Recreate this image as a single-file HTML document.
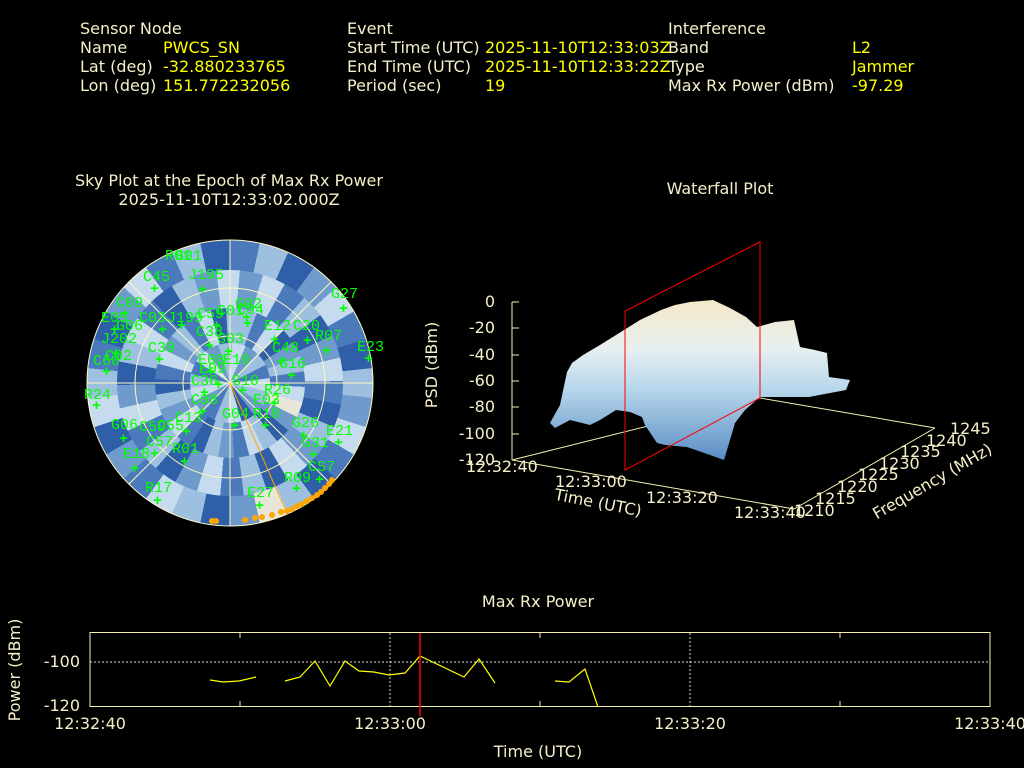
<!DOCTYPE html>
<html><head><meta charset="utf-8"><style>
html,body{margin:0;padding:0;background:#000;width:1024px;height:768px;overflow:hidden;position:relative}
svg{display:block;position:absolute;left:0;top:0}
.ring{position:absolute;border-radius:50%}
.t{font-family:"DejaVu Sans","Liberation Sans",sans-serif;font-size:16px;fill:#f5f0c8}
.y{fill:#ffff00}
.g{font-family:"Liberation Mono",monospace;font-size:15px;fill:#00ff00}
</style></head><body>
<div class="ring" style="left:87px;top:240px;width:286px;height:286px;background:conic-gradient(#4a7abb 0 12deg,#9dbfe0 0 24deg,#2f5fa8 0 36deg,#6f9acc 0 48deg,#c6dcee 0 60deg,#4a7abb 0 72deg,#2f5fa8 0 84deg,#9dbfe0 0 96deg,#6f9acc 0 108deg,#c6dcee 0 120deg,#4a7abb 0 132deg,#2f5fa8 0 144deg,#9dbfe0 0 156deg,#e8e6d8 0 168deg,#6f9acc 0 180deg,#2f5fa8 0 192deg,#9dbfe0 0 204deg,#c6dcee 0 216deg,#4a7abb 0 228deg,#6f9acc 0 240deg,#2f5fa8 0 252deg,#c6dcee 0 264deg,#9dbfe0 0 276deg,#4a7abb 0 288deg,#2f5fa8 0 300deg,#6f9acc 0 312deg,#c6dcee 0 324deg,#4a7abb 0 336deg,#9dbfe0 0 348deg,#2f5fa8 0 360deg)"></div>
<div class="ring" style="left:117px;top:270px;width:226px;height:226px;background:conic-gradient(from 5deg,#6f9acc 0 12deg,#c6dcee 0 24deg,#4a7abb 0 36deg,#9dbfe0 0 48deg,#2f5fa8 0 60deg,#6f9acc 0 72deg,#c6dcee 0 84deg,#4a7abb 0 96deg,#2f5fa8 0 108deg,#9dbfe0 0 120deg,#6f9acc 0 132deg,#c6dcee 0 144deg,#2f5fa8 0 156deg,#9dbfe0 0 168deg,#4a7abb 0 180deg,#c6dcee 0 192deg,#6f9acc 0 204deg,#2f5fa8 0 216deg,#9dbfe0 0 228deg,#4a7abb 0 240deg,#c6dcee 0 252deg,#6f9acc 0 264deg,#2f5fa8 0 276deg,#9dbfe0 0 288deg,#c6dcee 0 300deg,#4a7abb 0 312deg,#2f5fa8 0 324deg,#9dbfe0 0 336deg,#6f9acc 0 348deg,#c6dcee 0 360deg)"></div>
<div class="ring" style="left:155px;top:308px;width:150px;height:150px;background:conic-gradient(from 9deg,#9dbfe0 0 12deg,#4a7abb 0 24deg,#c6dcee 0 36deg,#2f5fa8 0 48deg,#6f9acc 0 60deg,#9dbfe0 0 72deg,#4a7abb 0 84deg,#c6dcee 0 96deg,#e8e6d8 0 108deg,#6f9acc 0 120deg,#2f5fa8 0 132deg,#9dbfe0 0 144deg,#c6dcee 0 156deg,#4a7abb 0 168deg,#6f9acc 0 180deg,#9dbfe0 0 192deg,#2f5fa8 0 204deg,#4a7abb 0 216deg,#c6dcee 0 228deg,#6f9acc 0 240deg,#9dbfe0 0 252deg,#2f5fa8 0 264deg,#4a7abb 0 276deg,#c6dcee 0 288deg,#6f9acc 0 300deg,#9dbfe0 0 312deg,#4a7abb 0 324deg,#c6dcee 0 336deg,#2f5fa8 0 348deg,#9dbfe0 0 360deg)"></div>
<div class="ring" style="left:190px;top:343px;width:80px;height:80px;background:conic-gradient(from 3deg,#c6dcee 0 20deg,#6f9acc 0 40deg,#9dbfe0 0 60deg,#4a7abb 0 80deg,#c6dcee 0 100deg,#9dbfe0 0 120deg,#6f9acc 0 140deg,#2f5fa8 0 160deg,#c6dcee 0 180deg,#9dbfe0 0 200deg,#4a7abb 0 220deg,#6f9acc 0 240deg,#c6dcee 0 260deg,#9dbfe0 0 280deg,#4a7abb 0 300deg,#c6dcee 0 320deg,#6f9acc 0 340deg,#9dbfe0 0 360deg)"></div>
<svg width="1024" height="768" viewBox="0 0 1024 768" xmlns="http://www.w3.org/2000/svg">
<g class="t">
<text x="80" y="34">Sensor Node</text>
<text x="80" y="53">Name</text><text x="163" y="53" class="t y">PWCS_SN</text>
<text x="80" y="72">Lat (deg)</text><text x="163" y="72" class="t y">-32.880233765</text>
<text x="80" y="91">Lon (deg)</text><text x="163" y="91" class="t y">151.772232056</text>
<text x="347" y="34">Event</text>
<text x="347" y="53">Start Time (UTC)</text><text x="485" y="53" class="t y">2025-11-10T12:33:03Z</text>
<text x="347" y="72">End Time (UTC)</text><text x="485" y="72" class="t y">2025-11-10T12:33:22Z</text>
<text x="347" y="91">Period (sec)</text><text x="485" y="91" class="t y">19</text>
<text x="668" y="34">Interference</text>
<text x="668" y="53">Band</text><text x="852" y="53" class="t y">L2</text>
<text x="668" y="72">Type</text><text x="852" y="72" class="t y">Jammer</text>
<text x="668" y="91">Max Rx Power (dBm)</text><text x="852" y="91" class="t y">-97.29</text>
<text x="229" y="186" text-anchor="middle">Sky Plot at the Epoch of Max Rx Power</text>
<text x="229" y="205" text-anchor="middle">2025-11-10T12:33:02.000Z</text>
<text x="720" y="194" text-anchor="middle">Waterfall Plot</text>
<text x="538" y="607" text-anchor="middle">Max Rx Power</text>
</g>
<g fill="none" stroke="#fff8c0" stroke-width="1">
<circle cx="230" cy="383" r="143"/><circle cx="230" cy="383" r="95"/><circle cx="230" cy="383" r="47"/>
<line x1="87" y1="383" x2="373" y2="383"/><line x1="230" y1="240" x2="230" y2="526"/>
<line x1="129" y1="282" x2="331" y2="484"/><line x1="331" y1="282" x2="129" y2="484"/>
</g>
<line x1="230" y1="383" x2="285" y2="509" stroke="#ffa500" stroke-width="1"/>
<g fill="#ffa500">
<circle cx="212" cy="521" r="3"/><circle cx="216" cy="521" r="3"/><circle cx="245" cy="520" r="3"/><circle cx="255" cy="518" r="3"/><circle cx="262" cy="517" r="3"/><circle cx="272" cy="515" r="3"/><circle cx="281" cy="512" r="3"/><circle cx="287" cy="511" r="3"/><circle cx="292" cy="509" r="3"/><circle cx="297" cy="506" r="3"/><circle cx="302" cy="504" r="3"/><circle cx="307" cy="501" r="3"/><circle cx="312" cy="498" r="3"/><circle cx="317" cy="495" r="3"/><circle cx="321" cy="492" r="3"/><circle cx="325" cy="488" r="3"/><circle cx="329" cy="484" r="3"/><circle cx="332" cy="480" r="3"/>
</g>
<g class="g">
<text x="165" y="260">R01</text><text x="175" y="260">G01</text><text x="188" y="279">J195</text><text x="143" y="281">C45</text>
<text x="116" y="307">C09</text><text x="101" y="322">E05</text><text x="139" y="322">C03</text><text x="167" y="322">J199</text>
<text x="197" y="318">C59</text><text x="217" y="315">C01</text><text x="235" y="308">G02</text><text x="237" y="314">C04</text>
<text x="264" y="330">E12</text><text x="293" y="330">C20</text><text x="315" y="340">R07</text><text x="331" y="298">G27</text>
<text x="357" y="351">E23</text><text x="101" y="343">J202</text><text x="148" y="352">C39</text><text x="196" y="336">C38</text>
<text x="217" y="343">G03</text><text x="272" y="352">C48</text><text x="279" y="368">G16</text><text x="93" y="365">C60</text>
<text x="198" y="364">E08</text><text x="223" y="364">E10</text><text x="199" y="373">E09</text><text x="191" y="385">C36</text>
<text x="232" y="385">G10</text><text x="264" y="394">R26</text><text x="191" y="404">C08</text><text x="253" y="404">E03</text>
<text x="222" y="418">G04</text><text x="253" y="418">R10</text><text x="175" y="422">C13</text><text x="111" y="429">G06</text>
<text x="139" y="431">C59</text><text x="157" y="430">C55</text><text x="292" y="427">G26</text><text x="326" y="435">E21</text>
<text x="302" y="447">G31</text><text x="146" y="446">C57</text><text x="172" y="453">R01</text><text x="123" y="458">E18</text>
<text x="308" y="471">CS7</text><text x="284" y="482">R09</text><text x="145" y="492">R17</text><text x="247" y="497">E27</text>
<text x="84" y="399">R24</text><text x="116" y="330">G06</text><text x="105" y="360">C02</text>
</g>
<g class="g" font-size="15" font-weight="bold">
<text x="198" y="294">+</text><text x="150" y="293">+</text><text x="120" y="318">+</text><text x="110" y="334">+</text><text x="158" y="334">+</text>
<text x="177" y="330">+</text><text x="212" y="330">+</text><text x="242" y="322">+</text><text x="243" y="328">+</text><text x="270" y="344">+</text>
<text x="303" y="345">+</text><text x="322" y="355">+</text><text x="339" y="313">+</text><text x="364" y="363">+</text><text x="111" y="358">+</text>
<text x="155" y="364">+</text><text x="205" y="350">+</text><text x="224" y="356">+</text><text x="277" y="366">+</text><text x="287" y="380">+</text>
<text x="102" y="376">+</text><text x="206" y="376">+</text><text x="214" y="389">+</text><text x="238" y="395">+</text><text x="270" y="408">+</text>
<text x="200" y="397">+</text><text x="198" y="416">+</text><text x="230" y="430">+</text><text x="261" y="430">+</text><text x="182" y="436">+</text>
<text x="119" y="443">+</text><text x="150" y="458">+</text><text x="180" y="466">+</text><text x="130" y="473">+</text><text x="299" y="440">+</text>
<text x="334" y="447">+</text><text x="309" y="459">+</text><text x="315" y="484">+</text><text x="292" y="493">+</text><text x="153" y="505">+</text>
<text x="255" y="510">+</text><text x="92" y="410">+</text>
</g>
<!-- waterfall -->
<defs>
<linearGradient id="wg" x1="0" y1="0" x2="0" y2="1">
<stop offset="0" stop-color="#f5e8c8"/><stop offset="0.3" stop-color="#e8f0f0"/>
<stop offset="0.55" stop-color="#b8d8ec"/><stop offset="1" stop-color="#5a8cc4"/></linearGradient>
</defs>
<g stroke="#f5f0b0" stroke-width="1" fill="none">
<line x1="512" y1="302" x2="512" y2="460"/>
<line x1="512" y1="460" x2="794" y2="509"/>
<line x1="794" y1="509" x2="935" y2="428"/>
<line x1="935" y1="428" x2="760" y2="398"/>
<line x1="512" y1="460" x2="760" y2="398"/>
</g>
<g stroke="#f5f0b0"><line x1="512" y1="302" x2="519" y2="302"/><line x1="512" y1="328" x2="519" y2="328"/><line x1="512" y1="355" x2="519" y2="355"/><line x1="512" y1="381" x2="519" y2="381"/><line x1="512" y1="407" x2="519" y2="407"/><line x1="512" y1="434" x2="519" y2="434"/></g>
<path d="M550,423 L560,405 L567,372 L572,363 L583,355 L600,345 L624,330 L640,320 L661,310 L675,305 L690,302 L713,300 L730,308 L746,317 L757,327 L775,322 L794,320 L800,347 L815,350 L827,353 L829,377 L850,380 L846,390 L809,397 L770,397 L760,397 L745,410 L735,423 L730,440 L724,460 L710,455 L687,447 L665,445 L657,443 L645,425 L642,417 L630,412 L616,410 L600,420 L590,425 L570,420 L555,428 Z" fill="url(#wg)"/>
<polygon points="625,311 760,242 760,398 625,470" fill="none" stroke="#ff0000" stroke-width="1"/>
<g class="t">
<text x="495" y="307" text-anchor="end">0</text>
<text x="495" y="333" text-anchor="end">-20</text>
<text x="495" y="360" text-anchor="end">-40</text>
<text x="495" y="386" text-anchor="end">-60</text>
<text x="495" y="412" text-anchor="end">-80</text>
<text x="495" y="439" text-anchor="end">-100</text>
<text x="495" y="465" text-anchor="end">-120</text>
<text x="466" y="472">12:32:40</text>
<text x="555" y="487">12:33:00</text>
<text x="646" y="503">12:33:20</text>
<text x="734" y="518">12:33:40</text>
<text x="794" y="516">1210</text><text x="815" y="504">1215</text><text x="837" y="492">1220</text><text x="858" y="480">1225</text>
<text x="879" y="469">1230</text><text x="900" y="457">1235</text><text x="926" y="446">1240</text><text x="950" y="434">1245</text>
<text transform="translate(597,508) rotate(11)" text-anchor="middle">Time (UTC)</text>
<text transform="translate(935,486) rotate(-30)" text-anchor="middle">Frequency (MHz)</text>
<text transform="translate(437,365) rotate(-90)" text-anchor="middle">PSD (dBm)</text>
</g>
<!-- bottom chart -->
<rect x="90" y="632.5" width="900" height="74" fill="none" stroke="#f5f0b0"/>
<line x1="90" y1="662" x2="990" y2="662" stroke="#ddd" stroke-dasharray="2,2"/>
<line x1="390" y1="633" x2="390" y2="706" stroke="#ddd" stroke-dasharray="2,2"/>
<line x1="690" y1="633" x2="690" y2="706" stroke="#ddd" stroke-dasharray="2,2"/>
<g stroke="#f5f0b0"><line x1="240" y1="706" x2="240" y2="701"/><line x1="540" y1="706" x2="540" y2="701"/><line x1="840" y1="706" x2="840" y2="701"/><line x1="240" y1="633" x2="240" y2="638"/><line x1="540" y1="633" x2="540" y2="638"/><line x1="840" y1="633" x2="840" y2="638"/></g>
<g fill="none" stroke="#ffff00" stroke-width="1.2">
<polyline points="210,680 223,682 239,681 256,677"/>
<polyline points="285,681 300,677 315,661 330,686 345,661 359,671 374,672 389,675 405,673 420,656 464,677 479,659 495,683"/>
<polyline points="555,681 569,682 585,669 598,707"/>
</g>
<line x1="420" y1="633" x2="420" y2="716" stroke="#ff0000" stroke-width="1.5"/>
<g class="t">
<text x="80" y="667" text-anchor="end">-100</text>
<text x="80" y="711" text-anchor="end">-120</text>
<text x="90" y="729" text-anchor="middle">12:32:40</text>
<text x="390" y="729" text-anchor="middle">12:33:00</text>
<text x="690" y="729" text-anchor="middle">12:33:20</text>
<text x="990" y="729" text-anchor="middle">12:33:40</text>
<text x="538" y="757" text-anchor="middle">Time (UTC)</text>
<text transform="translate(20,670) rotate(-90)" text-anchor="middle">Power (dBm)</text>
</g>
</svg>
</body></html>
